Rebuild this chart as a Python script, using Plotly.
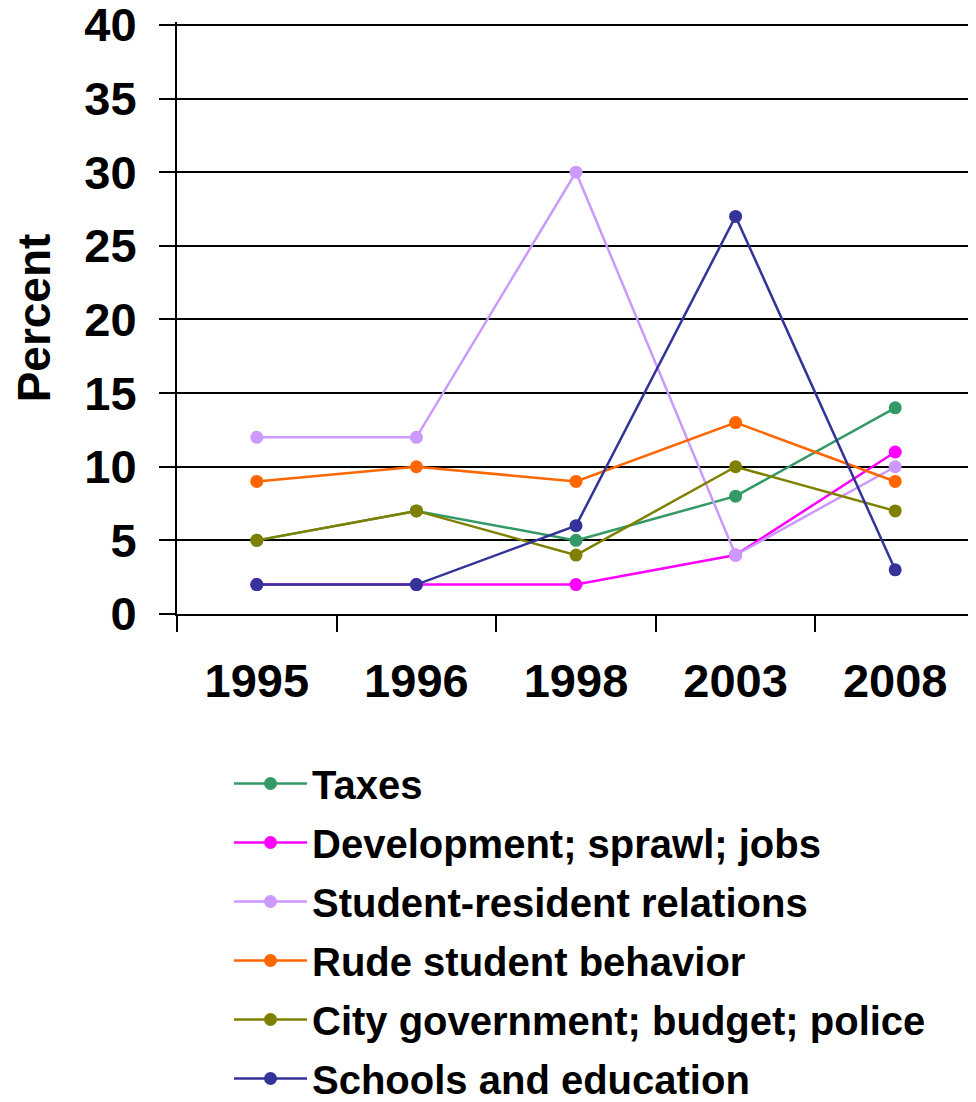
import plotly.graph_objects as go

years = ["1995", "1996", "1998", "2003", "2008"]
taxes = [5, 7, 5, 8, 14]
development = [2, 2, 2, 4, 11]
student_resident = [12, 12, 30, 4, 10]
rude_behavior = [9, 10, 9, 13, 9]
city_government = [5, 7, 4, 10, 7]
schools = [2, 2, 6, 27, 3]

series_names = [
    "Taxes",
    "Development; sprawl; jobs",
    "Student-resident relations",
    "Rude student behavior",
    "City government; budget; police",
    "Schools and education",
]
series_values = [taxes, development, student_resident, rude_behavior, city_government, schools]
colors = ["#339966", "#FF00FF", "#CC99FF", "#FF6600", "#808000", "#333399"]

FONT = "Arial, Liberation Sans, sans-serif"

fig = go.Figure()
for i, (name, vals, col) in enumerate(zip(series_names, series_values, colors)):
    fig.add_trace(go.Scatter(
        x=years, y=vals, name=name, mode="lines+markers",
        line=dict(color=col, width=2.5),
        marker=dict(color=col, size=13),
        legendgroup=f"g{i}",
    ))

# page has an 8px body margin; figure coordinates = page coordinates - 8
OFF = 8
W, H = 976 - OFF, 1102 - OFF
ml, mr, mt = 177 - OFF, 1, 22 - OFF
mb = H - (614 - OFF)
plot_w = W - ml - mr
plot_h = H - mt - mb

fig.update_layout(
    width=W, height=H,
    margin=dict(l=ml, r=mr, t=mt, b=mb, autoexpand=False),
    paper_bgcolor="white", plot_bgcolor="white",
    font=dict(family=FONT, color="black"),
    showlegend=True,
    legend=dict(
        x=(229 - 177) / plot_w, xanchor="left",
        y=-(751 - 614) / plot_h, yanchor="top",
        font=dict(size=40, family=FONT, weight="bold", color="black"),
        tracegroupgap=4,
        bgcolor="rgba(0,0,0,0)",
        itemwidth=73,
        maxheight=2000,
    ),
    xaxis=dict(
        type="category",
        range=[-0.5, 4.5],
        tickson="boundaries",
        ticks="outside", ticklen=16, tickwidth=2, tickcolor="black",
        showline=True, linewidth=2, linecolor="black",
        showgrid=False, zeroline=False,
        tickfont=dict(size=47, family=FONT, weight="bold", color="black"),
        ticklabelstandoff=25,
    ),
    yaxis=dict(
        range=[0, 40.2],
        tickvals=[0, 5, 10, 15, 20, 25, 30, 35, 40],
        ticks="outside", ticklen=16, tickwidth=2, tickcolor="black",
        showline=True, linewidth=2, linecolor="black",
        showgrid=True, gridcolor="black", gridwidth=2,
        zeroline=False,
        tickfont=dict(size=47, family=FONT, weight="bold", color="black"),
        ticklabelstandoff=13,
        ticklabeloverflow="allow",
        title=dict(text="Percent", font=dict(size=46, family=FONT, weight="bold", color="black"), standoff=20),
    ),
)

fig.write_html("out.html")
